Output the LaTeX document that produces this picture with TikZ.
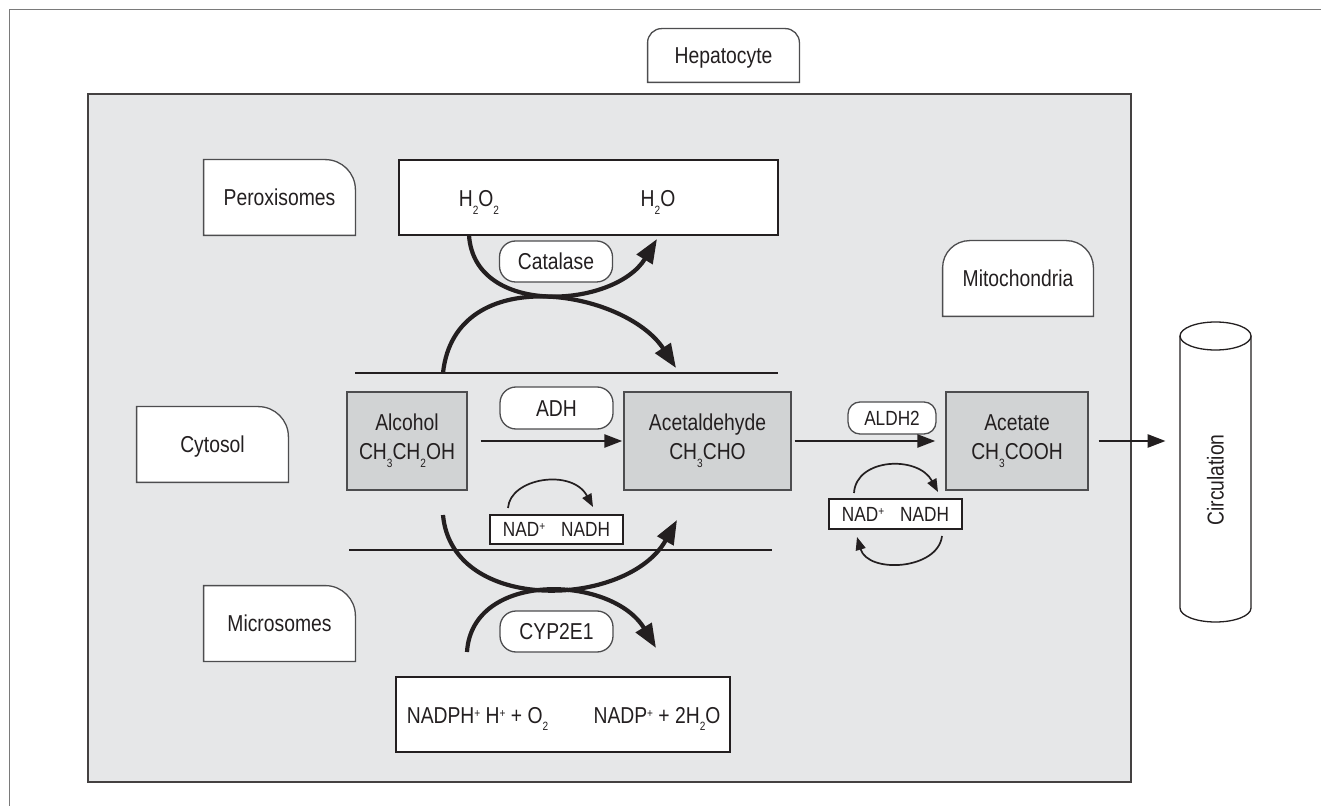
\documentclass[tikz,border=0pt]{standalone}
\usepackage{fontspec}
\setmainfont[FakeStretch=0.84]{Liberation Sans}
\usetikzlibrary{arrows.meta,calc}
\pgfdeclarelayer{bg}\pgfdeclarelayer{mid}\pgfsetlayers{bg,mid,main}
\definecolor{cellgray}{HTML}{E6E7E8}
\definecolor{cmpgray}{HTML}{D1D3D4}
\definecolor{ink}{HTML}{231F20}
\definecolor{edge}{HTML}{4D4D4F}
\definecolor{framegray}{HTML}{7A7A7A}
\newcommand\sbs[1]{\raisebox{-0.95\height}{\fontsize{6}{6}\selectfont #1}}
\newcommand\sps[1]{\raisebox{3pt}{\fontsize{6}{6}\selectfont #1}}
\newcommand\tabR[2]{%
  \begin{pgfonlayer}{mid}
  \filldraw[tabline] (#1.south west) -- (#1.north west) -- ([xshift=-#2]#1.north east)
    .. controls ([xshift=-0.45*#2]#1.north east) and ([yshift=-0.45*#2]#1.north east) .. ([yshift=-#2]#1.north east)
    -- (#1.south east) -- cycle;
  \end{pgfonlayer}}
\newcommand\tabB[2]{%
  \begin{pgfonlayer}{mid}
  \filldraw[tabline] (#1.south west) -- ([yshift=-#2]#1.north west)
    .. controls ([yshift=-0.45*#2]#1.north west) and ([xshift=0.45*#2]#1.north west) .. ([xshift=#2]#1.north west)
    -- ([xshift=-#2]#1.north east)
    .. controls ([xshift=-0.45*#2]#1.north east) and ([yshift=-0.45*#2]#1.north east) .. ([yshift=-#2]#1.north east)
    -- (#1.south east) -- cycle;
  \end{pgfonlayer}}
\tikzset{
  txt/.style={font=\fontsize{11.5}{14.5}\selectfont, text=ink},
  smalltxt/.style={font=\fontsize{10.25}{12}\selectfont, text=ink},
  tab/.style={txt, minimum width=75.5pt, minimum height=37.5pt, inner sep=0pt, text height=8.2pt, text depth=0pt},
  tabline/.style={fill=white, draw=edge, line width=0.65pt},
  pill/.style={txt, draw=edge, fill=white, rounded corners=8pt, line width=0.65pt, minimum width=56.5pt, minimum height=20.5pt, inner sep=0pt, text height=8.2pt, text depth=0pt},
  cmp/.style={txt, draw=edge, fill=cmpgray, line width=0.7pt, minimum height=49pt, align=center, inner sep=0pt},
  wbox/.style={draw=ink, fill=white, line width=0.65pt, inner sep=0pt},
  bigarr/.style={draw=ink, line width=2.1pt, -{Triangle[length=12pt,width=9pt]}},
  arr/.style={draw=ink, line width=1.3pt, -{Triangle[length=9pt,width=6.5pt]}},
  smallarr/.style={draw=ink, line width=0.85pt, -{Triangle[length=6.5pt,width=5pt]}},
  membrane/.style={draw=ink, line width=1.35pt},
}
\begin{document}
\begin{tikzpicture}[x=0.5pt,y=-0.5pt]
\useasboundingbox (0,0) rectangle (1321,806);
% outer frame (top and left)
\draw[framegray, line width=0.5pt] (9,806) -- (9,10) -- (1321,10);
% hepatocyte cell
\begin{pgfonlayer}{bg}
\filldraw[fill=cellgray, draw=ink!85, line width=1pt] (88,94) rectangle (1131,782);
\end{pgfonlayer}

% tabs
\node[tab, minimum height=26.5pt] (hep) at (723.5,55.5) {Hepatocyte};
\tabB{hep}{7pt}
\node[tab] (per) at (279.5,197.5) {Peroxisomes};
\tabR{per}{15pt}
\node[tab] (cyt) at (212.5,444.5) {Cytosol};
\tabR{cyt}{15pt}
\node[tab] (mic) at (279.5,623.5) {Microsomes};
\tabR{mic}{15pt}
\node[tab, minimum width=75pt] (mito) at (1018,278.5) {Mitochondria};
\tabB{mito}{13.5pt}

% peroxisome reaction box
\node[wbox, minimum width=189.5pt, minimum height=37.5pt] (h2box) at (588.5,197.5) {};
\node[txt, anchor=base] (h2o2) at (479,207) {H\sbs{2}O\sbs{2}};
\node[txt, anchor=base] (h2o) at (658,207) {H\sbs{2}O};

% membranes
\draw[membrane] (355,373) -- (778,373);
\draw[membrane] (349,550) -- (772,550);

% compounds
\node[cmp, minimum width=60pt] (alc) at (407,441) {Alcohol\\CH\sbs{3}CH\sbs{2}OH};
\node[cmp, minimum width=83.5pt] (acet) at (707.5,441) {Acetaldehyde\\CH\sbs{3}CHO};
\node[cmp, minimum width=71pt] (acetate) at (1017,441) {Acetate\\CH\sbs{3}COOH};

% enzymes
\node[pill] (cat) at (556,261.5) {Catalase};
\node[pill, minimum height=21pt] (adh) at (556.5,408) {ADH};
\node[pill] (cyp) at (556.5,631.5) {CYP2E1};
\node[pill, smalltxt, minimum width=44pt, minimum height=16pt, rounded corners=6pt, text height=7.3pt] (aldh) at (892,418) {ALDH2};

% cofactor boxes
\node[wbox, smalltxt, minimum width=66.5pt, minimum height=14.5pt, text height=7.3pt, text depth=0pt] (nad1) at (556.5,529.5) {NAD\sps{+}\hspace{8pt}NADH};
\node[wbox, smalltxt, minimum width=66.5pt, minimum height=15pt, text height=7.3pt, text depth=0pt] (nad2) at (895.5,514) {NAD\sps{+}\hspace{8pt}NADH};

% microsome reaction box
\node[wbox, minimum width=167pt, minimum height=37.5pt] (nadph) at (563,714.5) {};
\node[txt, anchor=base] (nadphL) at (477.5,723) {NADPH\sps{+} H\sps{+} + O\sbs{2}};
\node[txt, anchor=base] (nadphR) at (657,723) {NADP\sps{+} + 2H\sbs{2}O};

% circulation cylinder
\node[minimum width=35.5pt, minimum height=136pt, inner sep=0pt] (cyl) at (1215.5,472) {};
\draw[ink, line width=0.65pt, fill=white] (1180,336) -- (1180,608) arc[start angle=180, end angle=0, x radius=35.5, y radius=14] -- (1251,336);
\draw[ink, line width=0.65pt, fill=white] (1215.5,336) ellipse [x radius=35.5, y radius=14];
\node[txt, rotate=90] (circ) at (1215.5,480) {Circulation};

% straight arrows
\draw[arr] ([xshift=6.5pt]alc.east) -- ([xshift=-0.5pt]acet.west);
\draw[arr] ([xshift=1.5pt]acet.east) -- ([xshift=-5pt]acetate.west);
\draw[arr] ([xshift=5pt]acetate.east) -- ($(acetate.east -| cyl.west)+(-14,0)$);

% curve end points
\coordinate (catS) at (469,235);
\coordinate (catE) at (657,239);
\coordinate (perS) at (443,373);
\coordinate (perE) at (676,368);
\coordinate (micS) at (443,515);
\coordinate (micE) at (677,520);
\coordinate (cypS) at (467,652);
\coordinate (cypE) at (656,648);
\coordinate (adhS) at (508,508);
\coordinate (adhE) at (593,507);
\coordinate (mtS) at (854,493);
\coordinate (mtE) at (938,492);
\coordinate (mbS) at (942,536);
\coordinate (mbE) at (857,537);

% curved arrows
\draw[bigarr] (catS) .. controls (474,318) and (615,308) .. (catE);
\draw[bigarr] (perS) .. controls (455,260) and (625,290) .. (perE);
\draw[bigarr] (micS) .. controls (452,615) and (628,608) .. (micE);
\draw[bigarr] (cypS) .. controls (472,570) and (612,575) .. (cypE);
\draw[smallarr] (adhS) .. controls (510,478) and (572,468) .. (adhE);
\draw[smallarr] (mtS) .. controls (856,458) and (918,455) .. (mtE);
\draw[smallarr] (mbS) .. controls (938,570) and (868,574) .. (mbE);
\end{tikzpicture}
\end{document}
